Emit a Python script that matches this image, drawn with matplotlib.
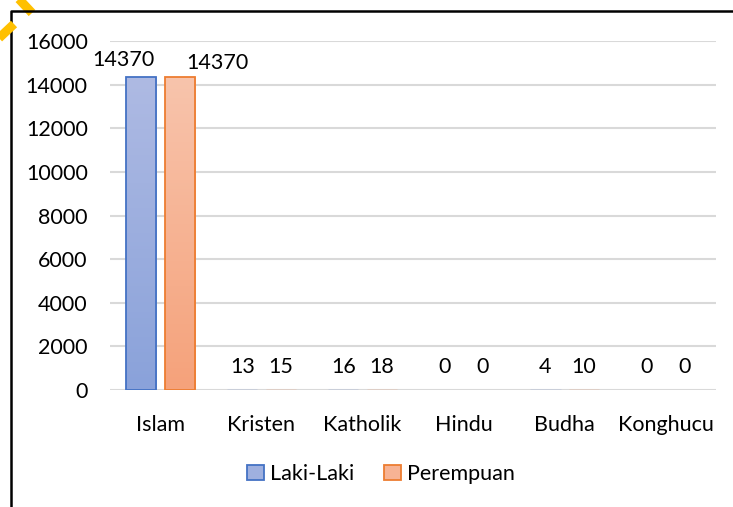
import numpy as np
import matplotlib.pyplot as plt
from matplotlib.patches import Patch
from matplotlib.lines import Line2D

# data
agama = ["Islam", "Kristen", "Katholik", "Hindu", "Budha", "Konghucu"]
laki_laki = [14370, 13, 16, 0, 4, 0]
perempuan = [14370, 15, 18, 0, 10, 0]
yticks = [0, 2000, 4000, 6000, 8000, 10000, 12000, 14000, 16000]

plt.rcParams['font.family'] = ['Lato', 'DejaVu Sans']
FS = 15.5

fig = plt.figure(figsize=(7.33, 5.07), dpi=100, facecolor='white')
ax = fig.add_axes([0.150, 0.2308, 0.827, 0.688])

x = np.arange(len(agama))
w = 0.30
off = 0.19


def gradient_bars(xpos, vals, top, bottom, edge):
    bars = ax.bar(xpos, vals, width=w, color='none', edgecolor=edge, linewidth=1.3, zorder=3)
    cmap = plt.matplotlib.colors.LinearSegmentedColormap.from_list('g', [bottom, top])
    grad = np.linspace(0, 1, 100).reshape(-1, 1)
    for b in bars:
        if b.get_height() <= 0:
            b.set_linewidth(0)
            continue
        if b.get_height() < 100:
            # tiny bars: only a thin coloured line shows
            b.set_linewidth(1.0)
            b.set_edgecolor(bottom)
            continue
        x0 = b.get_x()
        im = ax.imshow(grad, cmap=cmap, origin='lower', aspect='auto',
                       extent=[x0, x0 + b.get_width(), 0, b.get_height()], zorder=2)
        im.set_clip_path(b)
    return bars


b1 = gradient_bars(x - off, laki_laki, '#aebae3', '#8aa2da', '#4472c4')
b2 = gradient_bars(x + off, perempuan, '#f8c4ac', '#f5a27b', '#ed7d31')

ax.set_xlim(-0.5, len(agama) - 0.5)
ax.set_ylim(0, 16000)
ax.set_yticks(yticks)
ax.set_xticks(x)
ax.set_xticklabels(agama)
ax.tick_params(axis='both', length=0, labelsize=FS)
ax.tick_params(axis='y', pad=16)
ax.tick_params(axis='x', pad=18)
ax.grid(axis='y', color='#d9d9d9', linewidth=1.5, zorder=0)
ax.set_axisbelow(True)
for s in ax.spines.values():
    s.set_visible(False)

# value labels
for i in range(len(agama)):
    if i == 0:
        ax.annotate(str(laki_laki[i]), (x[i] - off, laki_laki[i]), xytext=(-13, 5),
                    textcoords='offset points', ha='center', va='bottom', fontsize=FS)
        ax.annotate(str(perempuan[i]), (x[i] + off, perempuan[i]), xytext=(27, 3),
                    textcoords='offset points', ha='center', va='bottom', fontsize=FS)
    else:
        ax.annotate(str(laki_laki[i]), (x[i] - off, laki_laki[i]), xytext=(0, 9),
                    textcoords='offset points', ha='center', va='bottom', fontsize=FS)
        ax.annotate(str(perempuan[i]), (x[i] + off, perempuan[i]), xytext=(0, 9),
                    textcoords='offset points', ha='center', va='bottom', fontsize=FS)

handles = [Patch(facecolor='#9fb0df', edgecolor='#4472c4', linewidth=1.3, label='Laki-Laki'),
           Patch(facecolor='#f7b394', edgecolor='#ed7d31', linewidth=1.3, label='Perempuan')]
fig.legend(handles=handles, loc='center', bbox_to_anchor=(0.52, 0.065), ncol=2, frameon=False,
           fontsize=FS, handlelength=0.75, handleheight=0.75, handletextpad=0.3, columnspacing=1.4)

# frame of the chart (cropped) and the yellow mark at the corner
W, H = 733, 507
fig.add_artist(Line2D([11 / W, 11 / W, 1], [0, 1 - 11 / H, 1 - 11 / H], color='black', lw=1.8, zorder=4))
fig.add_artist(Line2D([17 / W, 32 / W], [1 + 3 / H, 1 - 13 / H], color='#ffc000', lw=6.5,
                      solid_capstyle='butt', zorder=3))
fig.add_artist(Line2D([-3 / W, 14 / W], [1 - 40 / H, 1 - 24 / H], color='#ffc000', lw=6.5,
                      solid_capstyle='butt', zorder=5))

fig.savefig('out.png', dpi=100, facecolor='white')
